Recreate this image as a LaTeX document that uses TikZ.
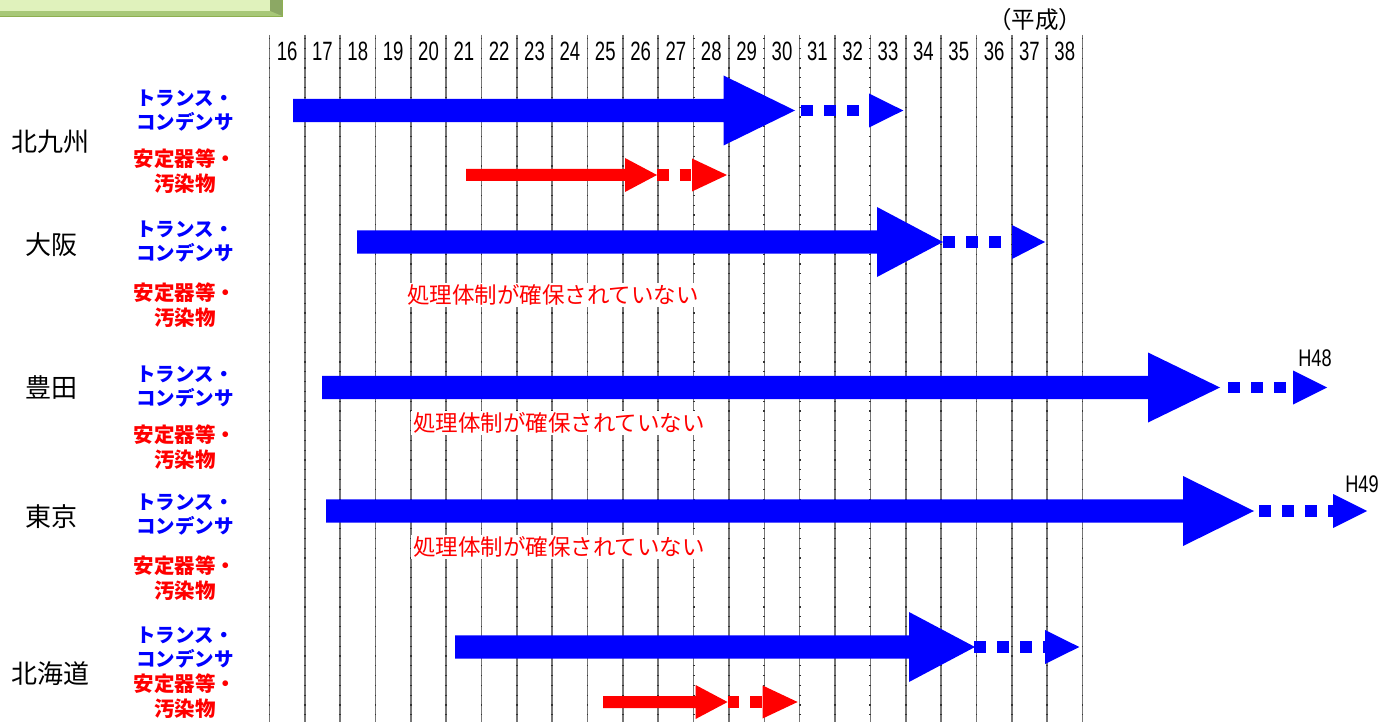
\documentclass[tikz,border=0pt]{standalone}
\usepackage{fontspec}
\newfontfamily\cjk{Noto Sans CJK JP}
\newfontfamily\narrowfont[FakeStretch=0.7]{Liberation Sans}
\definecolor{arrowblue}{RGB}{0,0,255}
\definecolor{arrowred}{RGB}{255,0,0}
\definecolor{gridgray}{RGB}{118,118,118}
\definecolor{boxlight}{RGB}{224,242,188}
\definecolor{boxmid}{RGB}{168,200,120}
\definecolor{boxdark}{RGB}{140,168,100}
\definecolor{boxedge}{RGB}{142,176,80}
\newcommand\BlueArrow[7]{%
  \fill[arrowblue] (#2,#1-11.7) -- (#3,#1-11.7) -- (#3,#1-35) -- (#4,#1) -- (#3,#1+35) -- (#3,#1+11.7) -- (#2,#1+11.7) -- cycle;
  \draw[arrowblue, line width=11.7pt, dash pattern=on 11.7pt off 11.3pt] (#5,#1) -- (#6,#1);
  \fill[arrowblue] (#6,#1-17) -- (#7,#1) -- (#6,#1+17) -- cycle;
}
\newcommand\RedArrow[7]{%
  \fill[arrowred] (#2,#1-6) -- (#3,#1-6) -- (#3,#1-17) -- (#4,#1) -- (#3,#1+17) -- (#3,#1+6) -- (#2,#1+6) -- cycle;
  \draw[arrowred, line width=12pt, dash pattern=on 11.5pt off 11pt] (#5,#1) -- (#6,#1);
  \fill[arrowred] (#6,#1-16.5) -- (#7,#1) -- (#6,#1+16.5) -- cycle;
}
\begin{document}
\begin{tikzpicture}[x=1pt,y=-1pt,
  place/.style={font=\cjk\fontsize{26}{28}\selectfont, inner sep=0pt},
  bluelab/.style={font=\cjk\bfseries\fontsize{19.5}{24}\selectfont, text=arrowblue, align=center, inner sep=0pt},
  redlab/.style={font=\cjk\bfseries\fontsize{20.5}{25}\selectfont, text=arrowred, align=center, inner sep=0pt},
  yearlab/.style={font=\narrowfont\fontsize{26.5}{28}\selectfont, inner sep=0pt},
  nonote/.style={font=\cjk\fontsize{22.5}{26}\selectfont, text=arrowred, fill=white, inner sep=2pt},
  hlab/.style={font=\narrowfont\fontsize{24}{26}\selectfont, inner sep=0pt, xscale=1.08}]
\useasboundingbox (0,0) rectangle (1397,722);
\fill[white] (0,0) rectangle (1397,722);
% title box (partially visible)
\fill[boxdark] (0,0) rectangle (282,16);
\fill[boxmid] (0,11) -- (270,11) -- (282,16) -- (0,16) -- cycle;
\fill[boxlight] (0,0) rectangle (270,11);
\draw[boxedge, line width=0.8pt] (0,16) -- (282,16) -- (282,0);
% grid lines
\foreach \k in {0,...,23} {
  \draw[gridgray, line width=1.6pt] (269.4+35.35*\k,35) -- (269.4+35.35*\k,722);
  \draw[black!80, line width=1.8pt, dash pattern=on 1.2pt off 8.6pt] (269.4+35.35*\k,38) -- (269.4+35.35*\k,722);
}
\foreach \k [evaluate=\k as \yr using int(16+\k)] in {0,...,22} {
  \node[yearlab] (yr\k) at (269.4+35.35*\k+17.7,51) {\yr};
}
\node[font=\cjk\fontsize{23.5}{26}\selectfont, inner sep=0pt] (heisei) at (1035,20) {（平成）};
% place names
\node[place] (kk) at (51,142) {北九州};
\node[place] (os) at (51,245) {大阪};
\node[place] (ty) at (51,387) {豊田};
\node[place] (tk) at (51,517) {東京};
\node[place] (hk) at (51,674) {北海道};
% category labels
\node[bluelab] (kkb) at (185,111) {トランス・\\コンデンサ};
\node[redlab] (kkr) at (185,171) {安定器等・\\汚染物};
\node[bluelab] (osb) at (185,242) {トランス・\\コンデンサ};
\node[redlab] (osr) at (185,305) {安定器等・\\汚染物};
\node[bluelab] (tyb) at (185,387) {トランス・\\コンデンサ};
\node[redlab] (tyr) at (185,447) {安定器等・\\汚染物};
\node[bluelab] (tkb) at (185,515) {トランス・\\コンデンサ};
\node[redlab] (tkr) at (185,578) {安定器等・\\汚染物};
\node[bluelab] (hkb) at (185,648) {トランス・\\コンデンサ};
\node[redlab] (hkr) at (185,696) {安定器等・\\汚染物};
% no-system notes
\node[nonote] (osn) at (553,295) {処理体制が確保されていない};
\node[nonote] (tyn) at (559,423) {処理体制が確保されていない};
\node[nonote] (tkn) at (559,547) {処理体制が確保されていない};
% arrows
\BlueArrow{110.5}{293}{723.5}{795}{801}{869}{903.3}
\RedArrow{175}{466}{625}{657}{657}{692}{727}
\BlueArrow{242}{357}{877}{943}{943}{1012}{1045}
\BlueArrow{387.5}{322}{1148}{1220}{1228}{1293}{1327}
\BlueArrow{511}{326}{1183}{1254}{1259}{1333}{1367}
\BlueArrow{647}{455}{909}{975}{974}{1045}{1079.3}
\RedArrow{702}{603}{695.6}{727.6}{727.6}{762.6}{797.6}
\node[hlab] (h48) at (1315,358) {H48};
\node[hlab] (h49) at (1362,484) {H49};
\end{tikzpicture}
\end{document}
